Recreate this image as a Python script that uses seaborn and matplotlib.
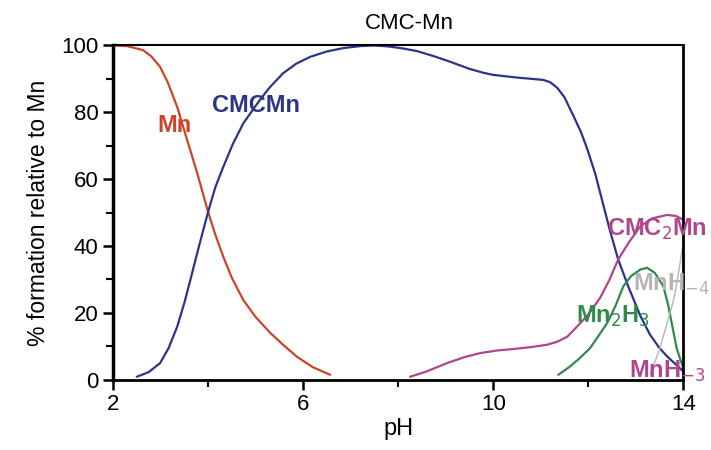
import numpy as np
import pandas as pd
import matplotlib
matplotlib.use("Agg")
import matplotlib.pyplot as plt
import seaborn as sns
from matplotlib.ticker import MultipleLocator

# ---- data ----
ph_mn = [2.0, 2.3, 2.63, 2.8, 2.99, 3.15, 3.35, 3.56, 3.77, 4.0, 4.15, 4.32, 4.5, 4.74, 5.0,
         5.31, 5.6, 5.87, 6.2, 6.57]
val_mn = [100, 99.8, 98.6, 96.8, 93.6, 89, 81.6, 71.7, 61.9, 50.2, 43.5, 36.8, 30.5, 23.9, 18.8,
          14.0, 10.2, 6.9, 3.8, 1.5]

ph_cmcmn = [2.5, 2.75, 2.99, 3.17, 3.35, 3.5, 3.62, 3.8, 4.0, 4.15, 4.32, 4.52, 4.74, 5.09, 5.3,
            5.58, 5.85, 6.15, 6.5, 6.84, 7.2, 7.5, 7.8, 8.1, 8.4, 8.75, 9.12, 9.5, 9.8, 10.0,
            10.5, 11.05, 11.2, 11.35, 11.5, 11.7, 11.85, 11.98, 12.15, 12.29, 12.45, 12.63, 12.84,
            13.1, 13.3, 13.5, 13.66, 13.85, 14.0]
val_cmcmn = [0.9, 2.3, 5, 9.5, 15.9, 23, 29.5, 39.5, 50.2, 57.5, 63.7, 70.5, 76.7, 83.7, 87.5,
             91.7, 94.5, 96.6, 98.2, 99.2, 99.8, 100, 99.7, 99.1, 98.3, 96.8, 95, 93, 91.8, 91.2,
             90.4, 89.7, 89, 87.3, 84.5, 78.6, 74, 69, 61.5, 53.8, 45, 36, 28,
             19, 13.5, 9.5, 7, 4.5, 2.5]

ph_cmc2mn = [8.25, 8.6, 9.03, 9.4, 9.73, 10.1, 10.42, 10.8, 11.14, 11.35, 11.56, 11.77, 12.0,
             12.25, 12.45, 12.63, 12.85, 13.1, 13.35, 13.66, 13.85, 13.98]
val_cmc2mn = [0.9, 2.5, 5, 6.8, 8, 8.8, 9.2, 9.8, 10.5, 11.4, 12.9, 16, 19.5,
              24.5, 30, 36, 41, 46, 48.3, 49.3, 49, 48]

ph_mn2h3 = [11.37, 11.6, 11.8, 12.04, 12.2, 12.4, 12.57, 12.74, 12.9, 13.1, 13.24, 13.4, 13.58,
            13.68, 13.77, 13.86, 13.94, 14.0]
val_mn2h3 = [1.5, 3.8, 6.2, 9.5, 12.8, 17, 22, 28, 31, 33, 33.5, 32, 28,
             22.5, 16, 9.5, 6, 3.5]

ph_mnh4 = [13.3, 13.5, 13.7, 13.8, 13.9, 14.0]
val_mnh4 = [1.5, 9, 19, 24, 32, 41]

x_major = [2, 6, 10, 14]
y_major = [0, 20, 40, 60, 80, 100]

# ---- styling ----
sns.set_style("ticks")
plt.rcParams['font.family'] = ['Liberation Sans', 'DejaVu Sans']
plt.rcParams['text.color'] = 'black'
plt.rcParams['axes.labelcolor'] = 'black'

fig = plt.figure(figsize=(7.11, 4.5), dpi=100)
ax = fig.add_axes([0.159, 0.156, 0.802, 0.743])

c_red = "#cc4529"
c_navy = "#2c3488"
c_mag = "#b0458e"
c_green = "#2f8a4c"
c_gray = "#b5b5b5"

sns.lineplot(x=ph_mn, y=val_mn, ax=ax, color=c_red, lw=1.6, sort=False)
sns.lineplot(x=ph_cmcmn, y=val_cmcmn, ax=ax, color=c_navy, lw=1.6, sort=False)
sns.lineplot(x=ph_cmc2mn, y=val_cmc2mn, ax=ax, color=c_mag, lw=1.6, sort=False)
sns.lineplot(x=ph_mn2h3, y=val_mn2h3, ax=ax, color=c_green, lw=1.6, sort=False)
sns.lineplot(x=ph_mnh4, y=val_mnh4, ax=ax, color=c_gray, lw=1.0, sort=False)

ax.set_xlim(2, 14)
ax.set_ylim(0, 100)
ax.set_xticks(x_major)
ax.set_yticks(y_major)
ax.xaxis.set_minor_locator(MultipleLocator(2))
ax.yaxis.set_minor_locator(MultipleLocator(10))
ax.tick_params(which='major', direction='out', length=7, width=1.8, labelsize=16,
               colors='black', labelcolor='black')
ax.tick_params(which='minor', direction='out', length=5, width=1.5, colors='black')

for s in ax.spines.values():
    s.set_color('black')
ax.spines['left'].set_linewidth(2.5)
ax.spines['bottom'].set_linewidth(2.0)
ax.spines['top'].set_linewidth(1.5)
ax.spines['right'].set_linewidth(2.0)

ax.set_xlabel("pH", fontsize=17, labelpad=2, color='black')
ax.set_ylabel("% formation relative to Mn", fontsize=16.5, labelpad=8, color='black')
ax.set_title("CMC-Mn", fontsize=16, pad=12, x=0.52, color='black')

lab = dict(fontsize=17, fontweight='bold', clip_on=False)
ax.text(3.3, 76, "Mn", color=c_red, ha='center', va='center', **lab)
ax.text(5.0, 82, "CMCMn", color=c_navy, ha='center', va='center', **lab)
ax.text(13.45, 45, "CMC$_2$Mn", color=c_mag, ha='center', va='center', **lab)
ax.text(12.95, 28.5, "MnH$_{-4}$", color=c_gray, ha='left', va='center', **lab)
ax.text(11.75, 19, "Mn$_2$H$_{3}$", color=c_green, ha='left', va='center', **lab)
ax.text(12.85, 2.5, "MnH$_{-3}$", color=c_mag, ha='left', va='center', **lab)

fig.savefig("out.png", dpi=100)
